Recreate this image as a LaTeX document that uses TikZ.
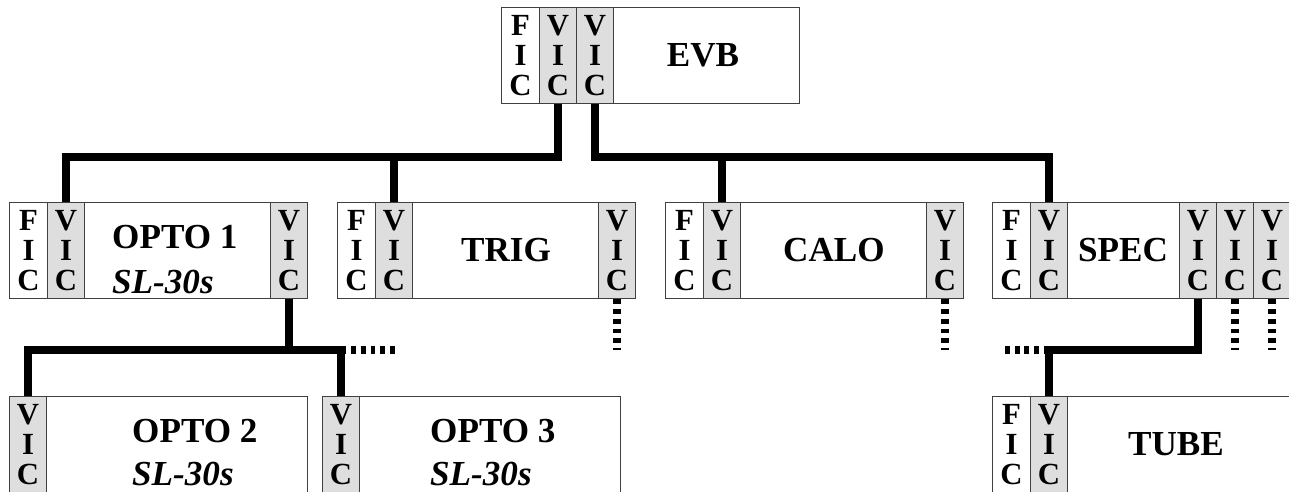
\documentclass[tikz,border=0pt]{standalone}
\usepackage{fontspec}
\setmainfont{Liberation Serif}
\definecolor{vicgray}{HTML}{DEDEDE}

\begin{document}
\begin{tikzpicture}[x=0.02cm, y=-0.02cm,
    board/.style ={draw=black!75, line width=0.6pt, anchor=north west, inner sep=0pt, minimum width=5.96cm, minimum height=1.92cm},
    fic/.style ={draw=black!75, line width=0.6pt, anchor=north west, inner sep=0pt, minimum width=0.76cm, minimum height=1.92cm, align=center, font=\fontsize{17.5}{17}\selectfont\bfseries},
    vic/.style ={fic, fill=vicgray, minimum width=0.74cm},
    title/.style ={font=\fontsize{20}{24}\selectfont\bfseries},
    model/.style ={font=\fontsize{20}{24}\selectfont\bfseries\itshape},
    bus/.style ={line width=4.5pt},
    stub/.style ={line width=4.5pt, dash pattern=on 2.8pt off 2.8pt}]
   \useasboundingbox (0,0) rectangle (1289,492);

   % event builder
   \node[board] (evb) at (501,7) {};
   \node[fic] (evbf) at (501,7) {F\\I\\C};
   \node[vic] (evbv1) at (539,7) {V\\I\\C};
   \node[vic] (evbv2) at (576,7) {V\\I\\C};
   \node[title] (evbt) at (703,55) {EVB};

   % second row
   \node[board] (opto1) at (9,202) {};
   \node[fic] (opto1f) at (9,202) {F\\I\\C};
   \node[vic] (opto1v) at (47,202) {V\\I\\C};
   \node[vic] (opto1r) at (270,202) {V\\I\\C};
   \node[title,anchor=base west] (opto1t) at (106,249) {OPTO 1};
   \node[model,anchor=base west] (opto1m) at (106,294) {SL-30s};

   \node[board] (trig) at (337,202) {};
   \node[fic] (trigf) at (337,202) {F\\I\\C};
   \node[vic] (trigv) at (375,202) {V\\I\\C};
   \node[vic] (trigr) at (598,202) {V\\I\\C};
   \node[title] (trigt) at (506,250) {TRIG};

   \node[board] (calo) at (665,202) {};
   \node[fic] (calof) at (665,202) {F\\I\\C};
   \node[vic] (calov) at (703,202) {V\\I\\C};
   \node[vic] (calor) at (926,202) {V\\I\\C};
   \node[title] (calot) at (834,250) {CALO};

   \node[board] (spec) at (992,202) {};
   \node[fic] (specf) at (992,202) {F\\I\\C};
   \node[vic] (specv) at (1030,202) {V\\I\\C};
   \node[vic] (specr1) at (1179,202) {V\\I\\C};
   \node[vic] (specr2) at (1216,202) {V\\I\\C};
   \node[vic] (specr3) at (1253,202) {V\\I\\C};
   \node[title] (spect) at (1123,250) {SPEC};

   % third row
   \node[board] (opto2) at (9,396) {};
   \node[vic] (opto2v) at (9,396) {V\\I\\C};
   \node[title,anchor=base west] (opto2t) at (126,443) {OPTO 2};
   \node[model,anchor=base west] (opto2m) at (126,486) {SL-30s};

   \node[board] (opto3) at (322,396) {};
   \node[vic] (opto3v) at (322,396) {V\\I\\C};
   \node[title,anchor=base west] (opto3t) at (424,443) {OPTO 3};
   \node[model,anchor=base west] (opto3m) at (424,486) {SL-30s};

   \node[board] (tube) at (992,396) {};
   \node[fic] (tubef) at (992,396) {F\\I\\C};
   \node[vic] (tubev) at (1030,396) {V\\I\\C};
   \node[title] (tubet) at (1176,444) {TUBE};

   % bus levels and open ends
   \coordinate (topbus) at (0,157);
   \coordinate (lowbus) at (0,350);
   \coordinate (optoend) at (397,350);
   \coordinate (tubeend) at (1000,350);

   \draw[bus] (evbv1.south) -- (evbv1.south |- topbus) -| (opto1v.north);
   \draw[bus] (evbv1.south |- topbus) -| (trigv.north);
   \draw[bus] (evbv2.south) -- (evbv2.south |- topbus) -| (specv.north);
   \draw[bus] (evbv2.south |- topbus) -| (calov.north);

   \draw[bus] (opto1r.south) -- (opto1r.south |- lowbus) -| (opto2v.north);
   \draw[bus] (opto1r.south |- lowbus) -| (opto3v.north);
   \draw[bus] (specr1.south) -- (specr1.south |- lowbus) -| (tubev.north);

   \draw[stub] (opto3v.north |- lowbus) -- (optoend);
   \draw[stub] (tubev.north |- lowbus) -- (tubeend);
   \draw[stub] (trigr.south) -- (trigr.south |- lowbus);
   \draw[stub] (calor.south) -- (calor.south |- lowbus);
   \draw[stub] (specr2.south) -- (specr2.south |- lowbus);
   \draw[stub] (specr3.south) -- (specr3.south |- lowbus);
 \end{tikzpicture}
\end{document}
